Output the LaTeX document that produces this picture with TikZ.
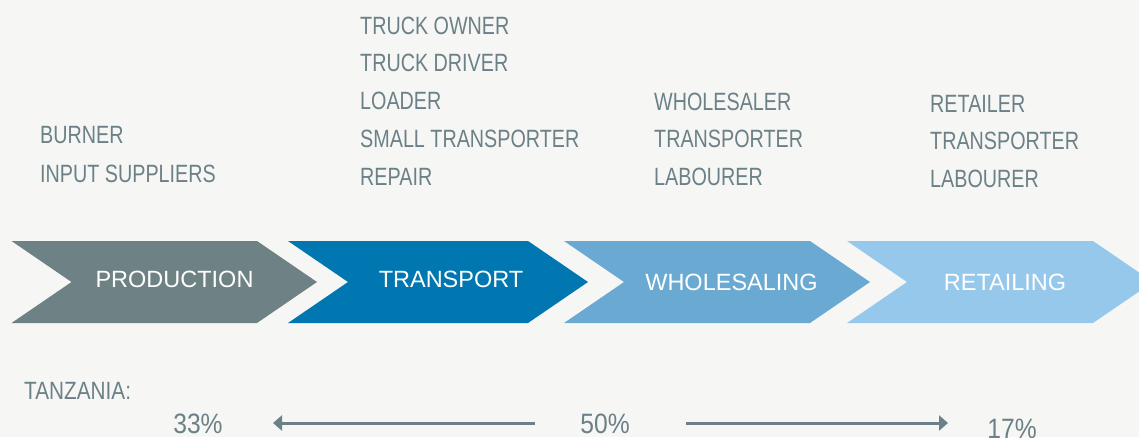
\documentclass[tikz,border=0pt]{standalone}
\usepackage{fontspec}
\setmainfont{Liberation Sans}
\newfontfamily\narrowfont{Liberation Sans}[FakeStretch=0.79]
\newfontfamily\tzfont{Liberation Sans}[FakeStretch=0.83]
\newfontfamily\pctfont{Liberation Sans}[FakeStretch=0.88]
\usetikzlibrary{arrows.meta}
\definecolor{bgcol}{HTML}{F6F7F5}
\definecolor{txtgray}{HTML}{6C8087}
\definecolor{prodcol}{HTML}{6E8185}
\definecolor{transcol}{HTML}{0077B0}
\definecolor{wholecol}{HTML}{6AAAD2}
\definecolor{retailcol}{HTML}{96C8EC}
\tikzset{
  role/.style={anchor=base west,inner sep=0pt,text=txtgray,font=\narrowfont\fontsize{25}{30}\selectfont},
  stage/.style={inner sep=0pt,text=white,font=\fontsize{23.5}{28}\selectfont},
  pct/.style={inner sep=0pt,text=txtgray,font=\pctfont\fontsize{28}{32}\selectfont},
  share/.style={draw=txtgray,line width=3pt,-{Triangle[length=9pt,width=15pt]}}
}
\begin{document}
\begin{tikzpicture}[x=1pt,y=-1pt]
    \fill[bgcol] (0,0) rectangle (1139,437);
    \useasboundingbox (0,0) rectangle (1139,437);
    % chevrons: left, shoulder, colour
    \foreach \l/\s/\c in {11.5/257/prodcol,288/528/transcol,564/810/wholecol,847/1093/retailcol}
        \fill[\c] (\l,241) -- (\s,241) -- (\s+60,282) -- (\s,323) -- (\l,323) -- (\l+60,282) -- cycle;
    \node[stage] (prod) at (174.5,279.5) {PRODUCTION};
    \node[stage] (trans) at (451,279.5) {TRANSPORT};
    \node[stage] (whole) at (731.5,282.5) {WHOLESALING};
    \node[stage] (retail) at (1005,282.5) {RETAILING};
    % actors per stage
    \foreach \t [count=\i] in {BURNER,INPUT SUPPLIERS}
        \node[role] (pr\i) at (40,{143+39*(\i-1)}) {\t};
    \foreach \t [count=\i] in {TRUCK OWNER,TRUCK DRIVER,LOADER,SMALL TRANSPORTER,REPAIR}
        \node[role] (tr\i) at (360,{34+37.75*(\i-1)}) {\t};
    \foreach \t [count=\i] in {WHOLESALER,TRANSPORTER,LABOURER}
        \node[role] (wh\i) at (654,{110+37.5*(\i-1)}) {\t};
    \foreach \t [count=\i] in {RETAILER,TRANSPORTER,LABOURER}
        \node[role] (re\i) at (930,{112+37.5*(\i-1)}) {\t};
    % shares
    \node[role,font=\tzfont\fontsize{25}{30}\selectfont] (tz) at (24,399) {TANZANIA:};
    \node[pct] (p33) at (198,424) {33\%};
    \node[pct] (p50) at (605,424) {50\%};
    \node[pct] (p17) at (1012,429) {17\%};
    \coordinate (la) at (535,423);
    \coordinate (lb) at (273,423);
    \coordinate (ra) at (686,423);
    \coordinate (rb) at (948,423);
    \draw[share] (la) -- (lb);
    \draw[share] (ra) -- (rb);
\end{tikzpicture}
\end{document}
